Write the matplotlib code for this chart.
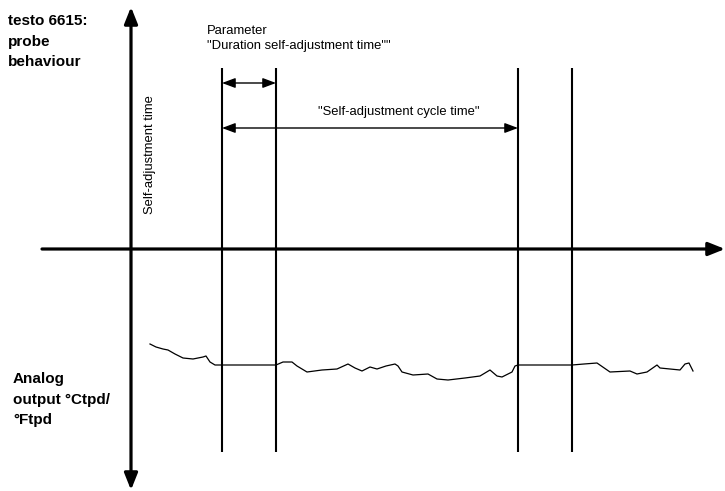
import matplotlib
matplotlib.use('Agg')
import matplotlib.pyplot as plt

plt.rcParams['font.family'] = ['Liberation Sans', 'DejaVu Sans']

# positions of the self-adjustment markers (pixels along the time axis)
marker_x = [222, 276, 518, 572]

# analog output signal (x, y in image pixels, y downward)
signal_x = [150, 156, 163, 168, 175, 183, 193, 203, 206, 210, 215, 222,
            276, 283, 292, 297, 307, 322, 337, 348, 355, 362, 370, 377,
            386, 395, 398, 402, 413, 428, 437, 448, 465, 480, 490, 497,
            502, 512, 515, 518,
            572, 584, 597, 610, 630, 637, 647, 657, 660, 670, 680, 685,
            689, 693]
signal_y = [344, 347, 349, 350, 354, 358, 359, 357, 356, 362, 365, 365,
            365, 362, 362, 366, 372, 370, 369, 364, 368, 371, 367, 369,
            366, 364, 366, 372, 375, 374, 379, 380, 378, 376, 370, 376,
            377, 372, 366, 365,
            365, 364, 363, 372, 371, 374, 372, 365, 368, 369, 370, 364,
            363, 371]

W, H = 725, 491
fig = plt.figure(figsize=(W / 100, H / 100), dpi=100)
ax = fig.add_axes([0, 0, 1, 1])
ax.set_xlim(0, W)
ax.set_ylim(H, 0)
ax.axis('off')

axis_lw = 2.3
axis_arrow = dict(arrowstyle='<|-|>,head_length=1.0,head_width=0.4',
                  color='black', lw=axis_lw, mutation_scale=10,
                  shrinkA=0, shrinkB=0)
# vertical axis (both directions)
ax.annotate('', xy=(131, 7), xytext=(131, 490), arrowprops=axis_arrow)
# time axis
ax.annotate('', xy=(725, 249), xytext=(42, 249),
            arrowprops=dict(axis_arrow, arrowstyle='-|>,head_length=1.0,head_width=0.4'))

# self-adjustment markers
for x in marker_x:
    ax.plot([x, x], [68, 452], color='black', lw=1.5, solid_capstyle='butt')

small_arrow = dict(arrowstyle='<|-|>,head_length=0.8,head_width=0.3',
                   color='black', lw=1.0, mutation_scale=10,
                   shrinkA=0, shrinkB=0)
ax.annotate('', xy=(marker_x[0], 83), xytext=(marker_x[1], 83), arrowprops=small_arrow)
ax.annotate('', xy=(marker_x[0], 128), xytext=(marker_x[2], 128), arrowprops=small_arrow)

ax.plot(signal_x, signal_y, color='black', lw=0.9)

# texts
fs = 9.4
ax.text(8, 14, 'testo 6615:\nprobe\nbehaviour', fontsize=11, fontweight='bold',
        va='top', ha='left', linespacing=1.6)
ax.text(13, 372, 'Analog\noutput \u00b0Ctpd/\n\u00b0Ftpd', fontsize=11, fontweight='bold',
        va='top', ha='left', linespacing=1.6)
ax.text(207, 25, 'Parameter\n"Duration self-adjustment time""', fontsize=fs,
        va='top', ha='left', linespacing=1.35)
ax.text(399, 112, '"Self-adjustment cycle time"', fontsize=fs,
        ha='center', va='center')
ax.text(150, 155, 'Self-adjustment time', fontsize=fs, rotation=90,
        ha='center', va='center')

fig.savefig('out.png', dpi=100)
